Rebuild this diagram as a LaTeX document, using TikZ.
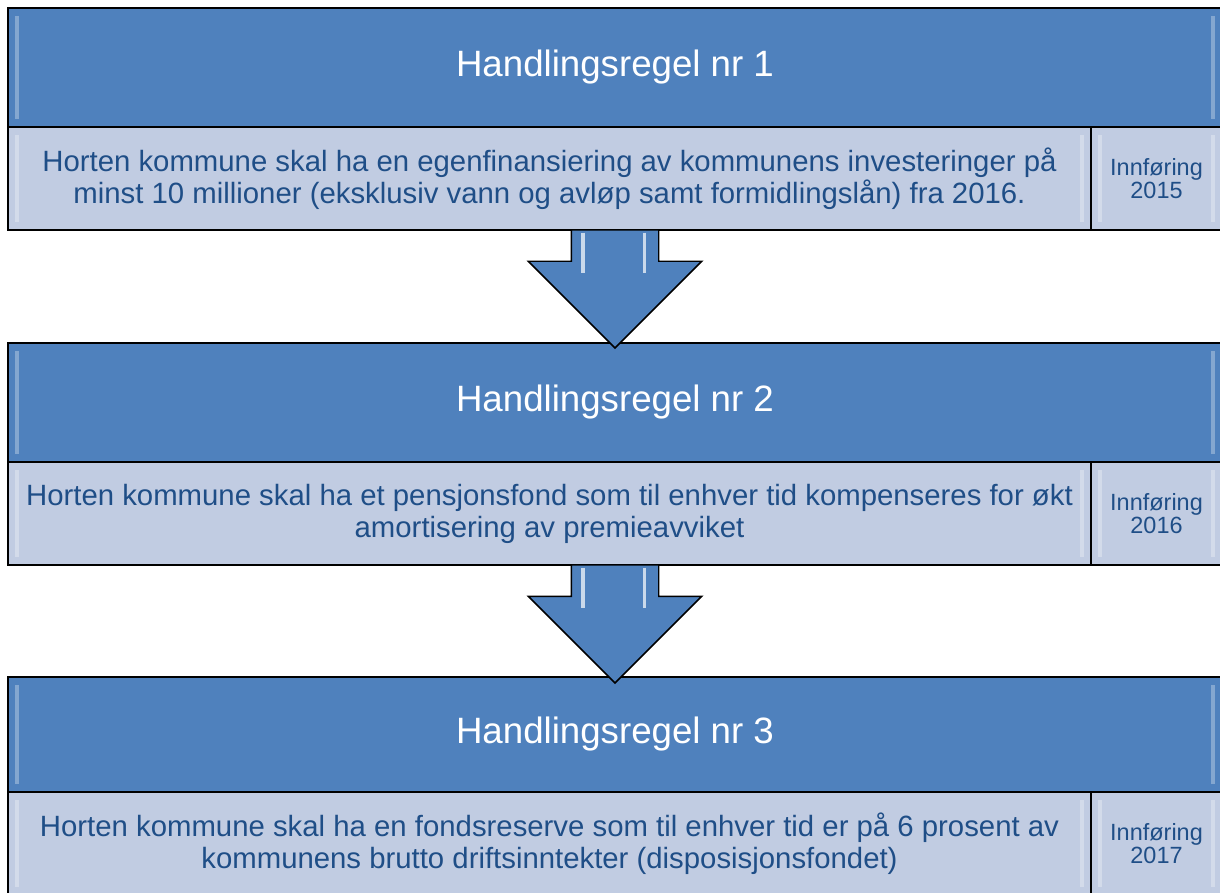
\documentclass[tikz,border=0pt]{standalone}
\usepackage{fontspec}
\setmainfont{Liberation Sans}
\usetikzlibrary{positioning,shapes.arrows}
\definecolor{regelblaa}{HTML}{4F81BD}
\definecolor{feltblaa}{HTML}{C1CCE2}
\definecolor{tekstblaa}{HTML}{1F4E87}
\newcommand{\px}{0.75pt}

\begin{document}
\begin{tikzpicture}[x=\px, y=-\px,
	regel/.style={draw=black, line width=1.1pt, fill=regelblaa, text=white,
		font=\fontsize{27.5}{30}\selectfont, minimum width=910.5pt, minimum height=89.25pt,
		inner sep=0pt, outer sep=0pt, anchor=north west, kant},
	felt/.style={draw=black, line width=1.1pt, fill=feltblaa, text=tekstblaa, align=center,
		font=\fontsize{22}{24}\selectfont, minimum width=812.25pt, minimum height=77.25pt,
		inner sep=0pt, outer sep=0pt, kant},
	aar/.style={felt, font=\fontsize{17.6}{17.6}\selectfont, minimum width=98.25pt},
	pil/.style={single arrow, draw=black, line width=1.1pt, fill=regelblaa,
		minimum width=129pt, minimum height=88.5pt, single arrow head extend=32.25pt,
		single arrow head indent=0pt, inner xsep=0pt, inner ysep=32.25pt, outer sep=0pt,
		rotate=-90, anchor=tail},
	% lys kant innerst i boksene
	kant/.style={path picture={
		\fill[white, opacity=.3] ([xshift=5pt, yshift=-6pt]path picture bounding box.north west)
			rectangle ([xshift=8pt, yshift=6pt]path picture bounding box.south west);
		\fill[white, opacity=.3] ([xshift=-8pt, yshift=-6pt]path picture bounding box.north east)
			rectangle ([xshift=-5pt, yshift=6pt]path picture bounding box.south east);}},
	glans/.style={white!70!regelblaa, line width=2.5pt}]
	\useasboundingbox (0,0) rectangle (1220,892);

	% Regel 1
	\node[regel] (head1) at (8,8) {Handlingsregel nr 1};
	\node[felt, anchor=north west] (body1) at (head1.south west)
		{Horten kommune skal ha en egenfinansiering av kommunens investeringer på\\
		 minst 10 millioner (eksklusiv vann og avløp samt formidlingslån) fra 2016.};
	\node[aar, anchor=west] (year1) at (body1.east) {Innføring\\2015};

	% Regel 2
	\node[regel] (head2) at (8,343) {Handlingsregel nr 2};
	\node[felt, anchor=north west] (body2) at (head2.south west)
		{Horten kommune skal ha et pensjonsfond som til enhver tid kompenseres for økt\\
		 amortisering av premieavviket};
	\node[aar, anchor=west] (year2) at (body2.east) {Innføring\\2016};

	% Regel 3
	\node[regel, minimum height=86.25pt] (head3) at (8,677) {Handlingsregel nr 3};
	\node[felt, anchor=north west] (body3) at (head3.south west)
		{Horten kommune skal ha en fondsreserve som til enhver tid er på 6 prosent av\\
		 kommunens brutto driftsinntekter (disposisjonsfondet)};
	\node[aar, anchor=west] (year3) at (body3.east) {Innføring\\2017};

	% Pilene
	\node[pil] (pil1) at (head1.south |- body1.south) {};
	\node[pil] (pil2) at (head2.south |- body2.south) {};
	\foreach \p in {pil1, pil2} {
		\draw[glans] ([xshift=-24pt, yshift=-2pt]\p.tail) -- ++(0,40);
		\draw[glans] ([xshift=22pt, yshift=-2pt]\p.tail) -- ++(0,40);
	}
\end{tikzpicture}
\end{document}
